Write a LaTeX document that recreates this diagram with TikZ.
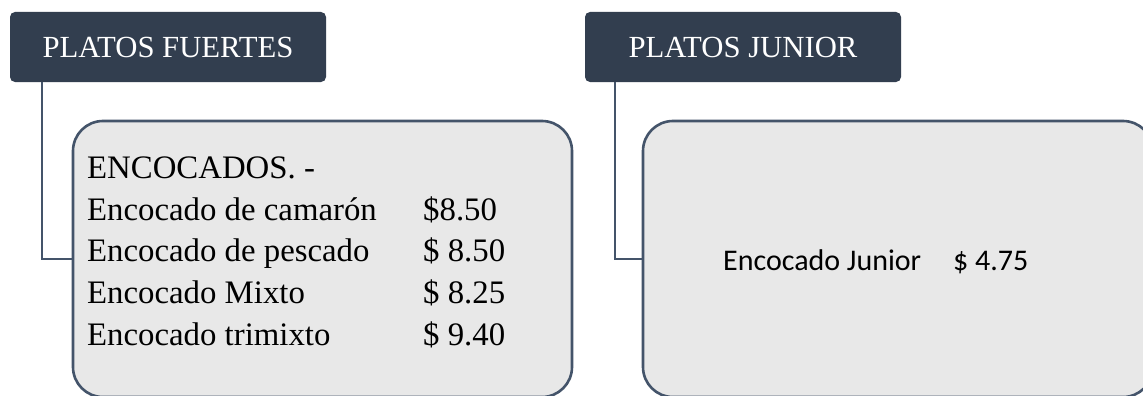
\documentclass[tikz,border=0pt]{standalone}
\usepackage{fontspec}
\setmainfont{Liberation Serif}
\newfontfamily\carlito{Carlito}
\definecolor{hdrfill}{HTML}{323E4F}
\definecolor{boxline}{HTML}{44546A}
\definecolor{boxfill}{HTML}{E8E8E8}
\tikzset{
  header/.style={rectangle, rounded corners=5pt, fill=hdrfill, text=white,
    minimum width=316pt, minimum height=70pt, inner sep=0pt, outer sep=0pt,
    anchor=north west, font=\fontsize{30.7}{36}\selectfont},
  itembox/.style={rectangle, rounded corners=30pt, draw=boxline, line width=2.6pt,
    fill=boxfill, inner sep=0pt, outer sep=0pt, anchor=north west, minimum height=276pt},
  conn/.style={draw=boxline, line width=2.2pt},
  serifitem/.style={anchor=base west, inner sep=0pt, font=\fontsize{32.8}{40}\selectfont},
  sansitem/.style={anchor=base west, inner sep=0pt, font=\carlito\fontsize{30}{36}\selectfont}
}
\begin{document}
\begin{tikzpicture}[x=1pt,y=-1pt]
\useasboundingbox (0,0) rectangle (1143,396);
\clip (0,0) rectangle (1143,396);
\fill[white] (0,0) rectangle (1143,396);
% headers
\node[header] (h1) at (10,12) {PLATOS FUERTES};
\node[header] (h2) at (585,12) {PLATOS JUNIOR};
% boxes
\node[itembox, minimum width=499pt] (b1) at (73,121) {};
\node[itembox, minimum width=510pt] (b2) at (643,121) {};
% connectors
\draw[conn] ([xshift=32pt]h1.south west) |- (b1.west);
\draw[conn] ([xshift=30pt]h2.south west) |- (b2.west);
% left box text
\node[serifitem] (t0) at (87,178.3) {ENCOCADOS. -};
\node[serifitem] (t1) at (87,220) {Encocado de camarón};
\node[serifitem] (t2) at (87,261.7) {Encocado de pescado};
\node[serifitem] (t3) at (87,303.4) {Encocado Mixto};
\node[serifitem] (t4) at (87,345.1) {Encocado trimixto};
\node[serifitem] (p1) at (423,220) {\$8.50};
\node[serifitem] (p2) at (423,261.7) {\$ 8.50};
\node[serifitem] (p3) at (423,303.4) {\$ 8.25};
\node[serifitem] (p4) at (423,345.1) {\$ 9.40};
% right box text
\node[sansitem] (j1) at (723,270) {Encocado Junior};
\node[sansitem] (j2) at (953,270) {\$ 4.75};
\end{tikzpicture}
\end{document}
